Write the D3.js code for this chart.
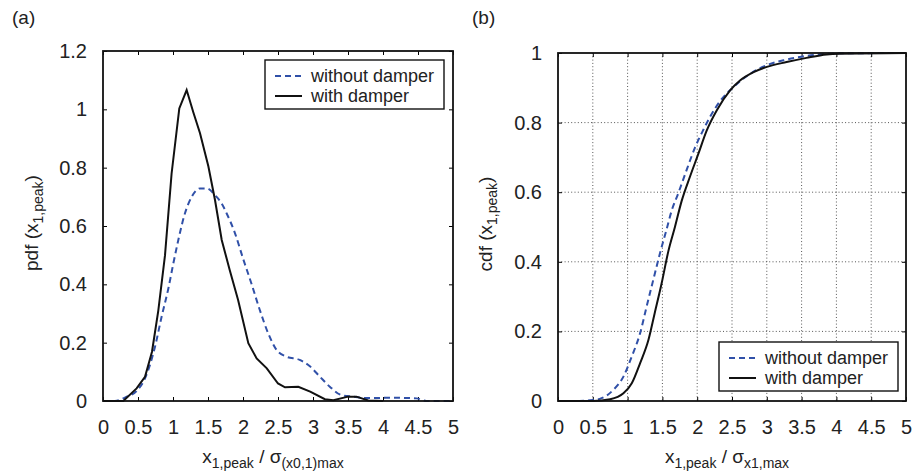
<!DOCTYPE html>
<html>
  <head>
    <meta charset="utf-8">
    <title>pdf / cdf of x1,peak</title>
    <script src="https://d3js.org/d3.v7.min.js"></script>
    <style>
      body { margin: 0; background: #fff; }
      svg { font-family: "Liberation Sans", Arial, sans-serif; }
    </style>
  </head>
  <body>
    <svg id="chart"></svg>
    <script>
      // tick values
      var xTicks = [0, 0.5, 1, 1.5, 2, 2.5, 3, 3.5, 4, 4.5, 5];
      var pdfTicks = [0, 0.2, 0.4, 0.6, 0.8, 1, 1.2];
      var cdfTicks = [0, 0.2, 0.4, 0.6, 0.8, 1];

      // (a) pdf
      var pdfWithout = [[0,0],[0.17,0],[0.34,0.015],[0.48,0.034],[0.6,0.078],[0.743,0.186],[0.838,0.29],
        [0.933,0.385],[1.005,0.472],[1.076,0.552],[1.17,0.643],[1.267,0.70],[1.386,0.729],[1.48,0.729],
        [1.6,0.706],[1.696,0.677],[1.767,0.643],[1.886,0.575],[2.0,0.489],[2.12,0.403],[2.24,0.312],
        [2.36,0.232],[2.48,0.175],[2.62,0.152],[2.81,0.141],[2.96,0.118],[3.1,0.083],[3.24,0.049],
        [3.41,0.02],[3.58,0.015],[3.77,0.01],[4.1,0.011],[4.48,0.009],[4.62,0],[5,0]];
      var pdfWith = [[0,0],[0.29,0],[0.48,0.043],[0.6,0.083],[0.7,0.169],[0.79,0.31],[0.886,0.5],
        [0.98,0.78],[1.09,1.003],[1.195,1.066],[1.29,0.99],[1.386,0.918],[1.505,0.805],[1.6,0.689],
        [1.696,0.552],[1.81,0.449],[1.93,0.346],[2.076,0.198],[2.195,0.146],[2.34,0.112],[2.5,0.06],
        [2.6,0.047],[2.79,0.049],[2.96,0.032],[3.17,0.006],[3.29,0.003],[3.5,0.015],[3.62,0.015],
        [3.79,0.002],[4.0,0]];

      // (b) cdf
      var cdfWithout = [[0,0],[0.31,0],[0.5,0.003],[0.6,0.006],[0.795,0.032],[0.94,0.07],[1.06,0.128],
        [1.18,0.195],[1.274,0.272],[1.37,0.349],[1.466,0.425],[1.56,0.493],[1.63,0.545],[1.73,0.598],
        [1.85,0.665],[1.968,0.728],[2.09,0.78],[2.18,0.815],[2.33,0.862],[2.52,0.902],[2.76,0.94],
        [3.0,0.965],[3.24,0.979],[3.52,0.99],[3.76,0.996],[4.05,0.999],[5,1]];
      var cdfWith = [[0,0],[0.5,0],[0.75,0.005],[0.94,0.022],[1.06,0.051],[1.18,0.109],[1.3,0.176],
        [1.39,0.253],[1.49,0.339],[1.585,0.43],[1.68,0.5],[1.777,0.575],[1.897,0.645],[2.016,0.71],
        [2.136,0.777],[2.28,0.835],[2.47,0.892],[2.615,0.921],[2.81,0.945],[3.0,0.96],[3.285,0.974],
        [3.57,0.986],[3.86,0.996],[4.05,0.998],[5,1]];

      var blue = "#3050a8";
      var fs = 18, tickFs = 20;

      var svg = d3.select("#chart").attr("width", 913).attr("height", 476);

      function panel(opt) {
        var g = svg.append("g");
        var x = d3.scaleLinear().domain([0, 5]).range([opt.left, opt.right]);
        var y = d3.scaleLinear().domain([0, opt.ymax]).range([opt.bottom, opt.top]);

        // dotted grid
        if (opt.grid) {
          g.append("g").selectAll("line").data(xTicks.slice(1, -1)).enter().append("line")
            .attr("x1", function(d) { return x(d); }).attr("x2", function(d) { return x(d); })
            .attr("y1", opt.top).attr("y2", opt.bottom)
            .attr("stroke", "#555").attr("stroke-width", 1).attr("stroke-dasharray", "1,2.3");
          g.append("g").selectAll("line").data(opt.yTicks.slice(1, -1)).enter().append("line")
            .attr("y1", function(d) { return y(d); }).attr("y2", function(d) { return y(d); })
            .attr("x1", opt.left).attr("x2", opt.right)
            .attr("stroke", "#555").attr("stroke-width", 1).attr("stroke-dasharray", "1,2.3");
        }

        var fmt = function(d) { return String(d); };
        var axB = g.append("g").attr("transform", "translate(0," + opt.bottom + ")")
          .call(d3.axisBottom(x).tickValues(xTicks).tickFormat(fmt).tickSizeInner(-4).tickSizeOuter(0).tickPadding(19));
        var axL = g.append("g").attr("transform", "translate(" + opt.left + ",0)")
          .call(d3.axisLeft(y).tickValues(opt.yTicks).tickFormat(fmt).tickSizeInner(-4).tickSizeOuter(0).tickPadding(16));
        var axT = g.append("g").attr("transform", "translate(0," + opt.top + ")")
          .call(d3.axisTop(x).tickValues(xTicks).tickFormat("").tickSizeInner(-4).tickSizeOuter(0));
        var axR = g.append("g").attr("transform", "translate(" + opt.right + ",0)")
          .call(d3.axisRight(y).tickValues(opt.yTicks).tickFormat("").tickSizeInner(-4).tickSizeOuter(0));
        [axB, axL, axT, axR].forEach(function(a) {
          a.select(".domain").remove();
          a.selectAll("line").attr("stroke", "#000").attr("stroke-width", 1);
          a.selectAll("text").attr("font-size", tickFs).attr("fill", "#222")
            .attr("font-family", "'Liberation Sans', Arial, sans-serif");
        });

        // curves
        var line = d3.line().x(function(d) { return x(d[0]); }).y(function(d) { return y(d[1]); });
        g.append("path").datum(opt.without).attr("d", line.curve(d3.curveMonotoneX))
          .attr("fill", "none").attr("stroke", blue).attr("stroke-width", 2).attr("stroke-dasharray", "6,4");
        g.append("path").datum(opt.withD).attr("d", line.curve(opt.blackCurve))
          .attr("fill", "none").attr("stroke", "#111").attr("stroke-width", 2);

        // frame
        g.append("rect").attr("x", opt.left).attr("y", opt.top)
          .attr("width", opt.right - opt.left).attr("height", opt.bottom - opt.top)
          .attr("fill", "none").attr("stroke", "#111").attr("stroke-width", 1.8);

        // legend
        var lg = opt.legend;
        g.append("rect").attr("x", lg.x).attr("y", lg.y).attr("width", 179).attr("height", 49)
          .attr("fill", "#fff").attr("stroke", "#111").attr("stroke-width", 1.4);
        g.append("line").attr("x1", lg.x + 10).attr("x2", lg.x + 37).attr("y1", lg.y + 16).attr("y2", lg.y + 16)
          .attr("stroke", blue).attr("stroke-width", 2).attr("stroke-dasharray", "6,4");
        g.append("line").attr("x1", lg.x + 10).attr("x2", lg.x + 37).attr("y1", lg.y + 36).attr("y2", lg.y + 36)
          .attr("stroke", "#111").attr("stroke-width", 2);
        g.append("text").attr("x", lg.x + 46).attr("y", lg.y + 22).attr("font-size", fs).attr("fill", "#222")
          .text("without damper");
        g.append("text").attr("x", lg.x + 46).attr("y", lg.y + 42).attr("font-size", fs).attr("fill", "#222")
          .text("with damper");

        // panel tag
        g.append("text").attr("x", opt.tagX).attr("y", 24).attr("font-size", 19).attr("fill", "#222").text(opt.tag);

        // y label
        var yl = g.append("text").attr("font-size", 19).attr("fill", "#222").attr("text-anchor", "middle")
          .attr("transform", "translate(" + opt.ylabX + "," + ((opt.top + opt.bottom) / 2 - 3) + ") rotate(-90)");
        yl.append("tspan").text(opt.yname + " (x");
        yl.append("tspan").attr("font-size", 14).attr("dy", 5).text("1,peak");
        yl.append("tspan").attr("dy", -5).text(")");

        // x label
        var xl = g.append("text").attr("font-size", 19).attr("fill", "#222").attr("text-anchor", "middle")
          .attr("x", (opt.left + opt.right) / 2 - 5).attr("y", 463);
        xl.append("tspan").text("x");
        xl.append("tspan").attr("font-size", 14).attr("dy", 5).text("1,peak");
        xl.append("tspan").attr("dy", -5).text(" / σ");
        xl.append("tspan").attr("font-size", 14).attr("dy", 5).text(opt.sigmaSub);
      }

      panel({
        left: 103, right: 453, top: 51, bottom: 401, ymax: 1.2, yTicks: pdfTicks,
        grid: false, without: pdfWithout, withD: pdfWith, blackCurve: d3.curveLinear,
        legend: {x: 265, y: 60}, tag: "(a)", tagX: 12, yname: "pdf", ylabX: 38,
        sigmaSub: "(x0,1)max"
      });
      panel({
        left: 558, right: 906, top: 53, bottom: 401, ymax: 1, yTicks: cdfTicks,
        grid: true, without: cdfWithout, withD: cdfWith, blackCurve: d3.curveMonotoneX,
        legend: {x: 719, y: 342}, tag: "(b)", tagX: 472, yname: "cdf", ylabX: 492,
        sigmaSub: "x1,max"
      });
    </script>
  </body>
</html>
